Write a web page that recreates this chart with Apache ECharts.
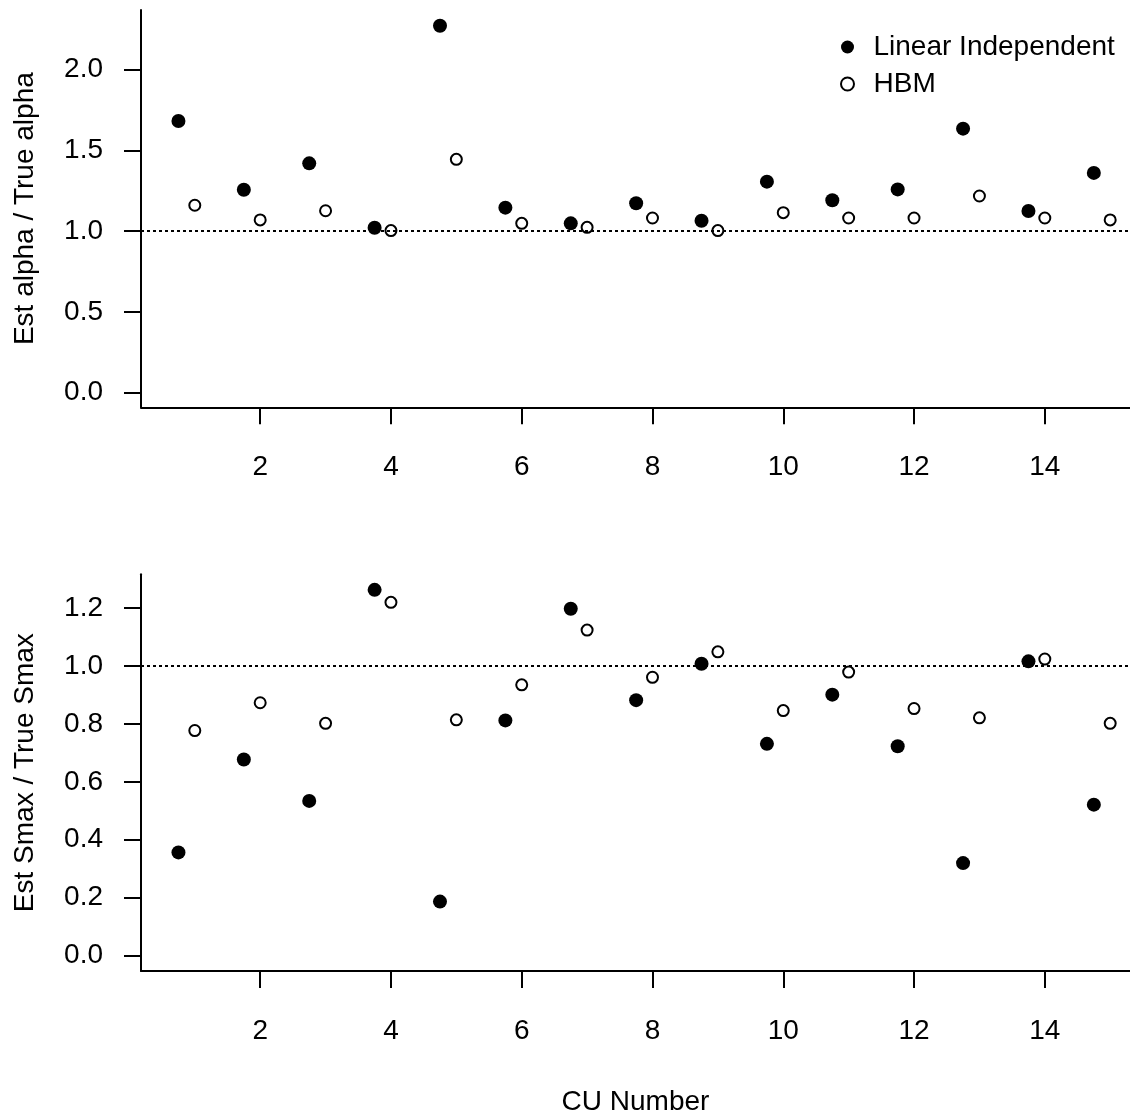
<!DOCTYPE html>
<html>
<head>
<meta charset="utf-8">
<script src="https://cdn.jsdelivr.net/npm/echarts@6/dist/echarts.min.js"></script>
<style>
  html, body { margin: 0; padding: 0; background: #fff; }
  #chart { width: 1130px; height: 1117px; }
</style>
</head>
<body>
<div id="chart"></div>
<script>
// CU numbers (x positions of the HBM estimates; the independent fits sit a quarter step to the left)
const cuNumbers = [1, 2, 3, 4, 5, 6, 7, 8, 9, 10, 11, 12, 13, 14, 15];
const linearShift = -0.25;

// Estimated / true alpha
const alphaLinear = [1.681, 1.256, 1.419, 1.021, 2.271, 1.145, 1.048, 1.172, 1.064, 1.306, 1.191, 1.258, 1.634, 1.124, 1.360];
const alphaHBM    = [1.160, 1.069, 1.126, 1.003, 1.444, 1.048, 1.023, 1.081, 1.003, 1.114, 1.081, 1.081, 1.217, 1.081, 1.069];

// Estimated / true Smax
const smaxLinear = [0.356, 0.677, 0.534, 1.263, 0.186, 0.812, 1.198, 0.882, 1.008, 0.731, 0.901, 0.723, 0.319, 1.016, 0.521];
const smaxHBM    = [0.777, 0.873, 0.802, 1.220, 0.814, 0.935, 1.124, 0.961, 1.049, 0.846, 0.979, 0.853, 0.821, 1.024, 0.802];

// Tick values
const xTicks = [2, 4, 6, 8, 10, 12, 14];
const alphaTicks = [0, 0.5, 1.0, 1.5, 2.0];
const smaxTicks = [0, 0.2, 0.4, 0.6, 0.8, 1.0, 1.2];
const referenceLevel = 1;

const FONT = '"Liberation Sans", Arial, sans-serif';
const seriesNames = ['Linear Independent', 'HBM'];

const pairs = (xs, ys, shift) => xs.map((x, i) => [x + shift, ys[i]]);

function xAxisFor(gridIndex, withName) {
  return {
    type: 'value', gridIndex,
    min: 0.1772, max: 15.303,
    axisLine: { show: true, onZero: false, lineStyle: { color: '#000', width: 2 } },
    axisTick: { show: true, customValues: xTicks, length: 17, lineStyle: { color: '#000', width: 2 } },
    axisLabel: { customValues: xTicks, color: '#000', fontSize: 28, fontFamily: FONT, margin: 46 },
    splitLine: { show: false },
    name: withName ? 'CU Number' : '',
    nameLocation: 'middle', nameGap: 117,
    nameTextStyle: { color: '#000', fontSize: 28, fontFamily: FONT }
  };
}

function yAxisFor(gridIndex, min, max, ticks, title) {
  return {
    type: 'value', gridIndex, min, max,
    axisLine: { show: true, onZero: false, lineStyle: { color: '#000', width: 2 } },
    axisTick: { show: true, customValues: ticks, length: 17, lineStyle: { color: '#000', width: 2 } },
    axisLabel: { customValues: ticks, color: '#000', fontSize: 28, fontFamily: FONT, margin: 38,
                 formatter: v => Number(v).toFixed(1) },
    splitLine: { show: false },
    name: title, nameLocation: 'middle', nameRotate: 90, nameGap: 102,
    nameTextStyle: { color: '#000', fontSize: 28, fontFamily: FONT }
  };
}

const refLine = {
  silent: true, symbol: 'none', label: { show: false },
  lineStyle: { color: '#000', width: 2, type: [3, 3] },
  data: [{ yAxis: referenceLevel }]
};

function filledSeries(idx, ys, withLine) {
  return {
    name: seriesNames[0], type: 'scatter', xAxisIndex: idx, yAxisIndex: idx,
    symbol: 'circle', symbolSize: 14,
    itemStyle: { color: '#000', opacity: 1 },
    data: pairs(cuNumbers, ys, linearShift),
    markLine: withLine ? refLine : undefined,
    z: 3
  };
}
function openSeries(idx, ys) {
  return {
    name: seriesNames[1], type: 'scatter', xAxisIndex: idx, yAxisIndex: idx,
    symbol: 'circle', symbolSize: 11,
    itemStyle: { color: 'rgba(0,0,0,0)', borderColor: '#000', borderWidth: 2, opacity: 1 },
    data: pairs(cuNumbers, ys, 0),
    z: 3
  };
}

const chart = echarts.init(document.getElementById('chart'), null, { renderer: 'canvas' });
chart.setOption({
  backgroundColor: '#fff',
  animation: false,
  grid: [
    { left: 141, top: 10, width: 990, height: 397.3 },
    { left: 141, top: 574.3, width: 990, height: 398 }
  ],
  xAxis: [xAxisFor(0, false), xAxisFor(1, true)],
  yAxis: [
    yAxisFor(0, -0.0903, 2.368, alphaTicks, 'Est alpha / True alpha'),
    yAxisFor(1, -0.0537, 1.3168, smaxTicks, 'Est Smax / True Smax')
  ],
  legend: {
    orient: 'vertical', left: 840, top: 33, padding: 0,
    itemWidth: 42, itemHeight: 13, itemGap: 9,
    data: seriesNames,
    textStyle: { color: '#000', fontSize: 28, fontFamily: FONT },
    selectedMode: false
  },
  series: [
    filledSeries(0, alphaLinear, true),
    openSeries(0, alphaHBM),
    filledSeries(1, smaxLinear, true),
    openSeries(1, smaxHBM)
  ]
});
</script>
</body>
</html>
